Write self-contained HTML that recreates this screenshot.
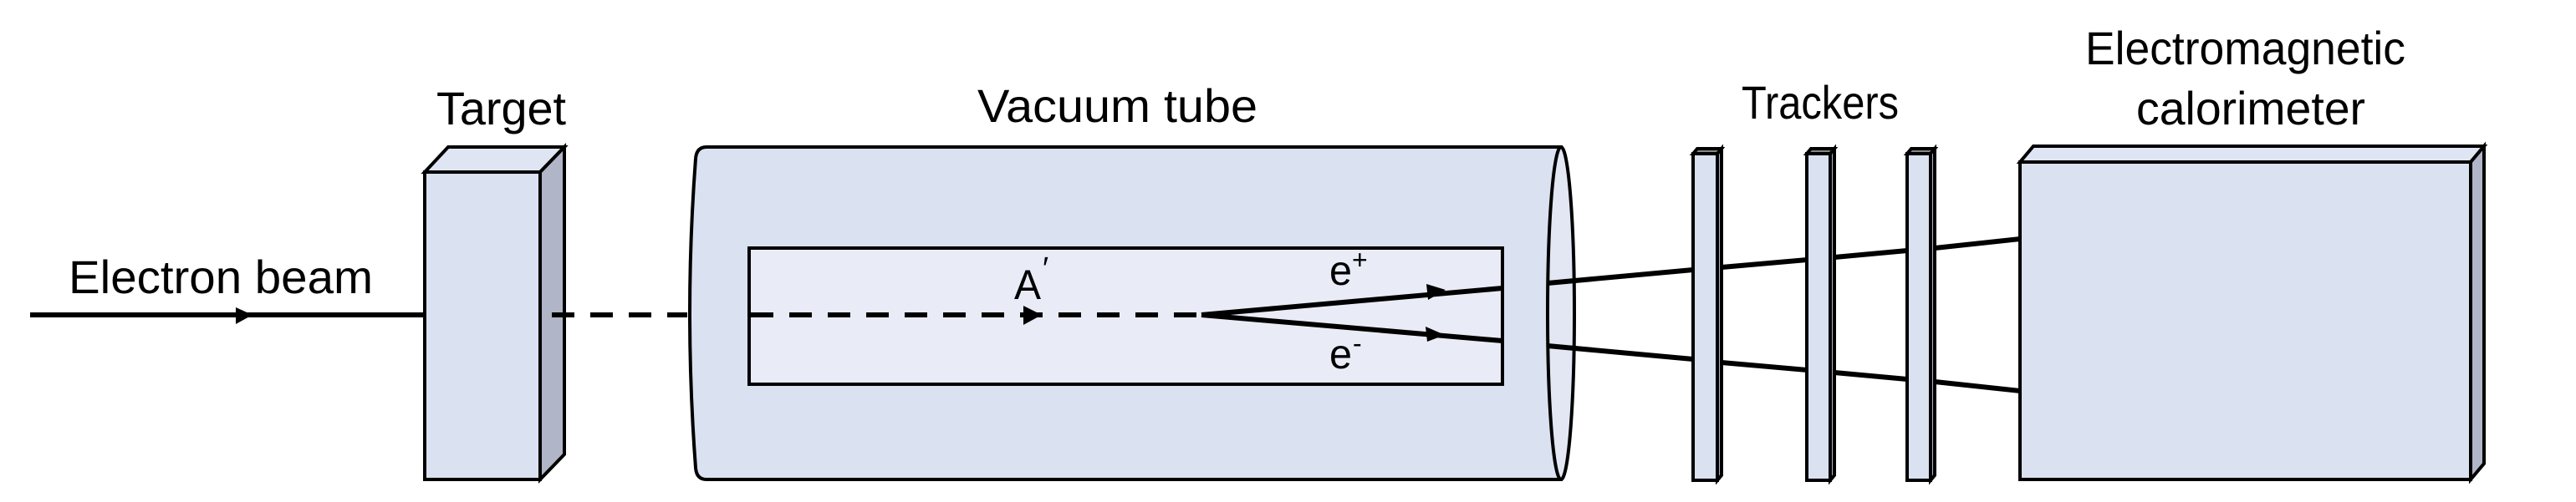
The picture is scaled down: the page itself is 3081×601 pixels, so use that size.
<!DOCTYPE html>
<html><head><meta charset="utf-8"><style>
html,body{margin:0;padding:0;background:#fff;width:3081px;height:601px;overflow:hidden}
svg{display:block}
text{font-family:"Liberation Sans",sans-serif;fill:#000}
</style></head><body>
<svg width="3081" height="601" viewBox="0 0 3081 601" xmlns="http://www.w3.org/2000/svg">
<g stroke="#000" stroke-width="4" stroke-linejoin="miter">
<!-- Target -->
<polygon points="508,206 536,176 675,176 646,206" fill="#dfe5f3"/>
<polygon points="646,206 675,176 675,544 646,574" fill="#b0b6c7"/>
<rect x="508" y="206" width="138" height="368" fill="#dae1f0"/>
<!-- Tube -->
<path d="M845,176 L1867,176 L1867,574 L845,574 Q833,574 832,560 Q818,375 832,190 Q833,176 845,176 Z" fill="#dae1f0"/>
<ellipse cx="1867" cy="375" rx="16" ry="199" fill="#e2e7f3"/>
<rect x="896" y="297" width="901" height="163" fill="#e9ecf6"/>
<!-- Trackers -->
<g fill="#dae1f0">
<polygon points="2025,184 2030,178 2059,178 2054,184" fill="#888"/>
<polygon points="2054,184 2059,178 2059,569 2054,575" fill="#b0b6c7"/>
<rect x="2025" y="184" width="29" height="391"/>
<polygon points="2161,184 2166,178 2194,178 2189,184" fill="#888"/>
<polygon points="2189,184 2194,178 2194,569 2189,575" fill="#b0b6c7"/>
<rect x="2161" y="184" width="28" height="391"/>
<polygon points="2281,184 2286,178 2314,178 2309,184" fill="#888"/>
<polygon points="2309,184 2314,178 2314,569 2309,575" fill="#b0b6c7"/>
<rect x="2281" y="184" width="28" height="391"/>
</g>
<!-- Calorimeter -->
<polygon points="2416,194 2432,175 2971,175 2955,194" fill="#dfe5f3"/>
<polygon points="2955,194 2971,175 2971,555 2955,574" fill="#b0b6c7"/>
<rect x="2416" y="194" width="539" height="380" fill="#dae1f0"/>
</g>
<!-- Lines -->
<g stroke="#000" stroke-width="6" fill="none">
<line x1="36" y1="377" x2="508" y2="377"/>
<line x1="660" y1="377" x2="822" y2="377" stroke-dasharray="27,19"/>
<line x1="898" y1="377" x2="1437" y2="377" stroke-dasharray="27,19"/>
<line x1="1437" y1="377" x2="1797" y2="345"/>
<line x1="1437" y1="377" x2="1797" y2="408"/>
<line x1="1851" y1="339" x2="2025" y2="323"/>
<line x1="2059" y1="320" x2="2161" y2="311"/>
<line x1="2194" y1="308" x2="2281" y2="300"/>
<line x1="2314" y1="297" x2="2416" y2="286"/>
<line x1="1851" y1="414" x2="2025" y2="430"/>
<line x1="2059" y1="434" x2="2161" y2="443"/>
<line x1="2194" y1="446" x2="2281" y2="454"/>
<line x1="2314" y1="457" x2="2416" y2="468"/>
</g>
<g fill="#000">
<polygon points="282,368 302,377 282,388"/>
<polygon points="1224,366 1246,377 1224,389"/>
<polygon points="1706,340 1729,347 1708,359" />
<polygon points="1705,391 1728,401 1707,409"/>
</g>
<!-- Labels -->
<text x="82" y="351" font-size="56" textLength="364" lengthAdjust="spacingAndGlyphs">Electron beam</text>
<text x="522" y="149" font-size="56" textLength="155" lengthAdjust="spacingAndGlyphs">Target</text>
<text x="1169" y="146" font-size="56" textLength="335" lengthAdjust="spacingAndGlyphs">Vacuum tube</text>
<text x="2083" y="142" font-size="56" textLength="188" lengthAdjust="spacingAndGlyphs">Trackers</text>
<text x="2494" y="77" font-size="56" textLength="383" lengthAdjust="spacingAndGlyphs">Electromagnetic</text>
<text x="2555" y="149" font-size="56" textLength="274" lengthAdjust="spacingAndGlyphs">calorimeter</text>
<text x="1213" y="358" font-size="50" textLength="32" lengthAdjust="spacingAndGlyphs">A</text>
<text x="1247" y="334" font-size="38">′</text>
<text x="1590" y="341" font-size="50" textLength="27" lengthAdjust="spacingAndGlyphs">e</text>
<text x="1617" y="322" font-size="32">+</text>
<text x="1590" y="441" font-size="50" textLength="27" lengthAdjust="spacingAndGlyphs">e</text>
<text x="1618" y="422" font-size="32">-</text>
</svg>
</body></html>
